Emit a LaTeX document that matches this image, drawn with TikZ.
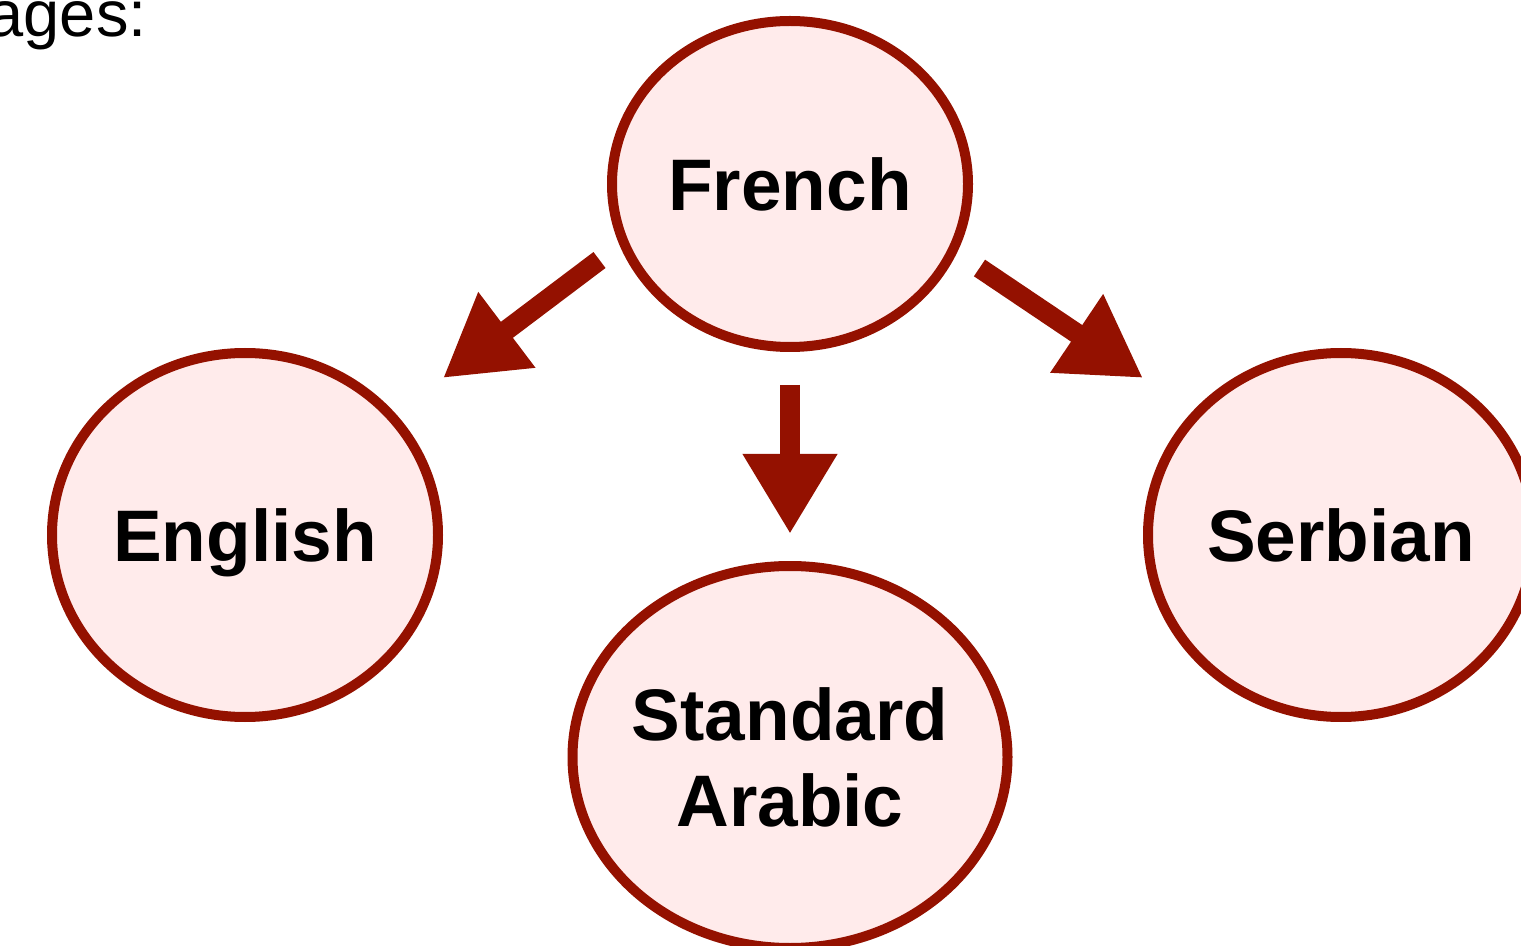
\documentclass[tikz,border=0pt]{standalone}
\usepackage{fontspec}
\setmainfont{Liberation Sans}
\usetikzlibrary{shapes.geometric,arrows.meta}
\definecolor{dred}{HTML}{941100}
\definecolor{pinkfill}{HTML}{FFEBEB}
\tikzset{
  lang/.style={ellipse, draw=dred, fill=pinkfill, line width=5pt, inner sep=0pt,
    font=\bfseries\fontsize{36.5}{43}\selectfont, align=center, text depth=0pt},
  bigarrow/.style={draw=dred, line width=10pt,
    -{Triangle[length=40pt,width=44.5pt,fill=dred]}}
}
\begin{document}
\begin{tikzpicture}[x=0.5pt,y=-0.5pt]
\useasboundingbox (0,0) rectangle (1521,946);
\node[anchor=base east, inner sep=0pt, font=\fontsize{32.5}{38}\selectfont] (cap) at (147,37) {ages:};
\node[lang, minimum width=178pt, minimum height=163pt] (fr) at (790,184) {French};
\node[lang, minimum width=193pt, minimum height=182pt] (en) at (245,535) {English};
\node[lang, minimum width=193pt, minimum height=182pt] (sr) at (1341,535) {Serbian};
\node[lang, inner xsep=-6pt, minimum width=217.5pt, minimum height=191pt] (ar) at (790,757) {Standard\\Arabic};
\coordinate (l1) at (599.5,260);
\coordinate (l2) at (443,378);
\coordinate (m1) at (790,385);
\coordinate (m2) at (790,534);
\coordinate (r1) at (979.5,268);
\coordinate (r2) at (1143,378);
\draw[bigarrow] (l1) -- (l2);
\draw[bigarrow] (m1) -- (m2);
\draw[bigarrow] (r1) -- (r2);
\end{tikzpicture}
\end{document}
